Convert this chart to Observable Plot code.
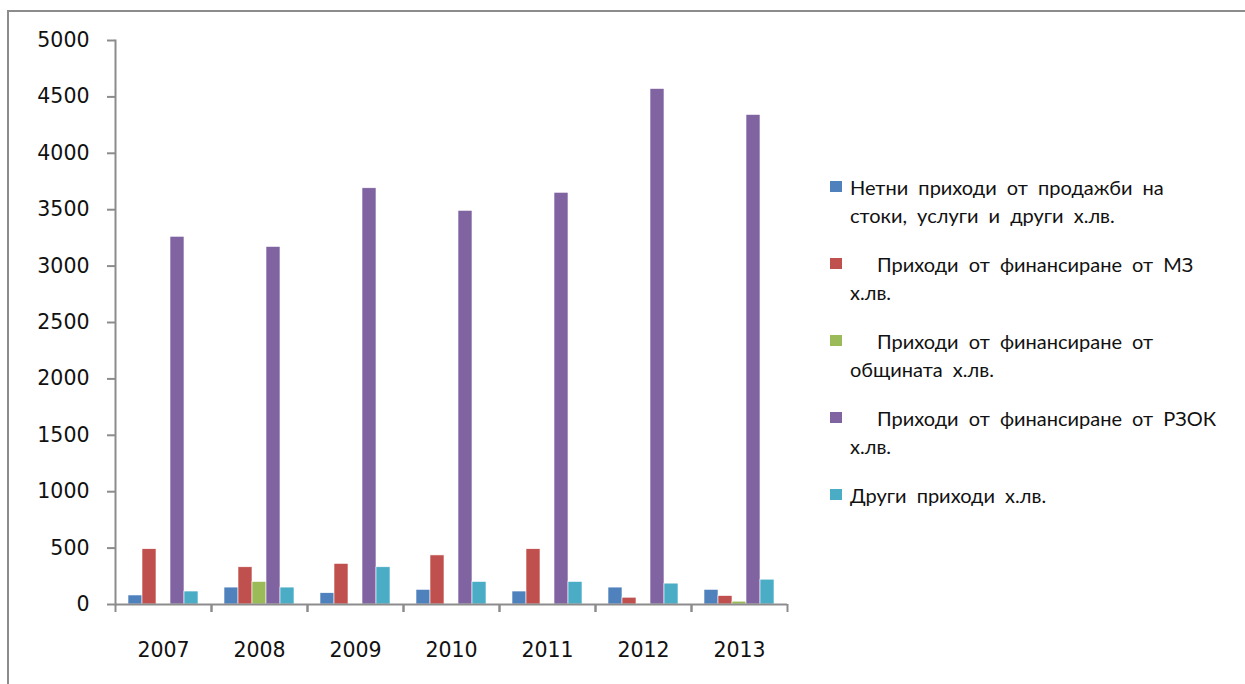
<!DOCTYPE html>
<html>
<head>
<meta charset="utf-8">
<script src="https://cdn.jsdelivr.net/npm/d3@7"></script>
<script src="https://cdn.jsdelivr.net/npm/@observablehq/plot@0.6"></script>
<style>
  body { margin: 0; background: #fff; }
  #wrap { position: relative; width: 1245px; height: 684px; overflow: hidden; background: #fff; }
  #border { position: absolute; left: 7px; top: 10px; width: 1300px; height: 800px;
            border-top: 2px solid #8c8c8c; border-left: 2px solid #8c8c8c; }
  #chart { position: absolute; left: 0; top: 0; }
  #legend { position: absolute; left: 830px; top: 173px; width: 410px;
            font-family: Lato, "Open Sans", sans-serif; font-size: 20px; color: #111; }
  .item { display: flex; align-items: flex-start; margin-bottom: 21px; }
  .sw { width: 12px; height: 11px; margin-top: 8px; margin-right: 8px; flex: none; }
  .txt { line-height: 28px; white-space: pre-line; word-spacing: 5px; }
</style>
</head>
<body>
<div id="wrap">
  <div id="border"></div>
  <div id="chart"></div>
  <div id="legend"></div>
</div>
<script>
const years = ["2007", "2008", "2009", "2010", "2011", "2012", "2013"];
const series = [
  "Нетни приходи от продажби на стоки, услуги и други х.лв.",
  "Приходи от финансиране от МЗ х.лв.",
  "Приходи от финансиране от общината х.лв.",
  "Приходи от финансиране от РЗОК х.лв.",
  "Други приходи х.лв."
];
const legendLines = [
  "Нетни приходи от продажби на\nстоки, услуги и други х.лв.",
  "Приходи от финансиране от МЗ\nх.лв.",
  "Приходи от финансиране от\nобщината х.лв.",
  "Приходи от финансиране от РЗОК\nх.лв.",
  "Други приходи х.лв."
];
const legendIndent = [false, true, true, true, false];
const colors = ["#4F81BD", "#C0504D", "#9BBB59", "#8064A2", "#4BACC6"];
const netni    = [80, 150, 100, 130, 115, 150, 130];
const mz       = [490, 330, 360, 435, 490, 60, 75];
const obshtina = [0, 200, 0, 0, 0, 5, 25];
const rzok     = [3260, 3170, 3690, 3490, 3650, 4570, 4340];
const drugi    = [115, 150, 330, 200, 200, 185, 220];
const yTicks = [0, 500, 1000, 1500, 2000, 2500, 3000, 3500, 4000, 4500, 5000];

const valueArrays = [netni, mz, obshtina, rzok, drugi];
const data = years.flatMap((y, i) => series.map((s, j) => ({year: y, series: s, value: valueArrays[j][i]})));

const W = 800, ML = 115, MR = 13;
const bw = (W - ML - MR) / years.length;

const chart = Plot.plot({
  width: W, height: 684,
  marginLeft: ML, marginRight: MR, marginTop: 40, marginBottom: 80,
  style: {fontFamily: "DejaVu Sans", fontSize: "20.5px", color: "#111", background: "transparent", overflow: "visible"},
  fx: {domain: years, padding: 0, label: null, axis: null},
  x: {domain: series, paddingInner: 0, paddingOuter: 0.75, axis: null},
  y: {domain: [0, 5000], axis: null},
  color: {domain: series, range: colors},
  marks: [
    Plot.barY(data, {fx: "year", x: "series", y: "value", fill: "series", stroke: "#fff", strokeWidth: 0.6}),
    Plot.ruleY([0], {stroke: "#8c8c8c", strokeWidth: 2}),
    Plot.frame({anchor: "left", facetAnchor: "left", stroke: "#8c8c8c", strokeWidth: 2}),
    Plot.axisY({ticks: yTicks, tickSize: 8, tickPadding: 18, stroke: "#8c8c8c", strokeWidth: 2, label: null, tickFormat: d => String(d)}),
    Plot.axisFx({anchor: "bottom", tickSize: 0, tickPadding: 38, label: null}),
    Plot.axisFx({anchor: "bottom", tickSize: 8, tickFormat: () => "", label: null, dx: -bw / 2, stroke: "#8c8c8c", strokeWidth: 2}),
    Plot.axisFx([years[years.length - 1]], {anchor: "bottom", tickSize: 8, tickFormat: () => "", label: null, dx: bw / 2, stroke: "#8c8c8c", strokeWidth: 2})
  ]
});
document.getElementById("chart").appendChild(chart);

const legend = document.getElementById("legend");
series.forEach((s, j) => {
  const item = document.createElement("div");
  item.className = "item";
  const sw = document.createElement("div");
  sw.className = "sw";
  sw.style.background = colors[j];
  const txt = document.createElement("div");
  txt.className = "txt";
  txt.textContent = legendLines[j];
  if (legendIndent[j]) txt.style.textIndent = "27px";
  item.appendChild(sw);
  item.appendChild(txt);
  legend.appendChild(item);
});
</script>
</body>
</html>
